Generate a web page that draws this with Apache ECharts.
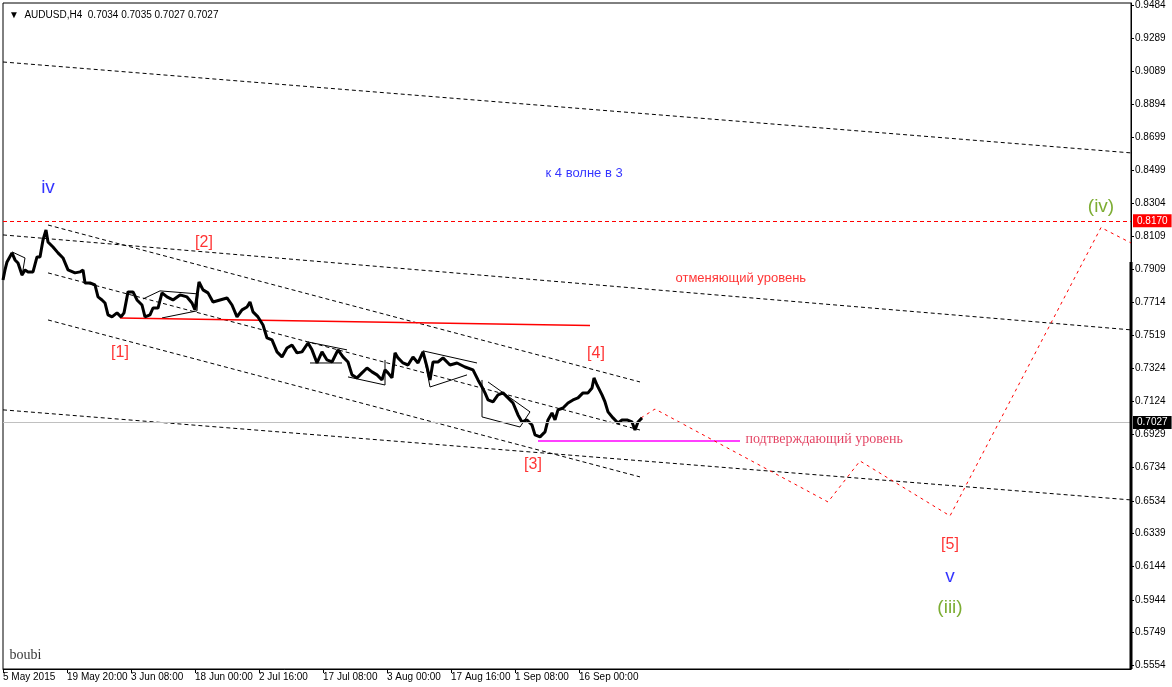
<!DOCTYPE html>
<html><head><meta charset="utf-8">
<script src="https://cdn.jsdelivr.net/npm/echarts@6/dist/echarts.min.js"></script>
<style>html,body{margin:0;padding:0;background:#fff}#c{width:1172px;height:687px}</style>
</head><body><div id="c"></div>
<script>
// ---------- data ----------
const symbolTitle = 'AUDUSD,H4';
const lastOHLC = ['0.7034', '0.7035', '0.7027', '0.7027'];
const xTickBars = [0, 64, 128, 192, 256, 320, 384, 448, 512, 576];
const xTickLabels = ['5 May 2015', '19 May 20:00', '3 Jun 08:00', '18 Jun 00:00', '2 Jul 16:00',
  '17 Jul 08:00', '3 Aug 00:00', '17 Aug 16:00', '1 Sep 08:00', '16 Sep 00:00'];
const yTickValues = [0.9484, 0.9289, 0.9089, 0.8894, 0.8699, 0.8499, 0.8304, 0.8109, 0.7909, 0.7714,
  0.7519, 0.7324, 0.7124, 0.6929, 0.6734, 0.6534, 0.6339, 0.6144, 0.5944, 0.5749, 0.5554];
const barRange = [0, 1128];
const priceRange = [0.5533, 0.9496];

// [bar index, price]
const pricePath = [
[0,0.7848],[2,0.7908],[4,0.7955],[9,0.8009],[12,0.7967],[15,0.7949],[19,0.7878],[22,0.7908],[25,0.7896],[30,0.7896],
[34,0.7985],[37,0.7985],[40,0.8086],[43,0.8146],[45,0.8074],[50,0.8044],[55,0.8009],[60,0.7979],[65,0.7908],[72,0.7890],
[77,0.7896],[80,0.7908],[82,0.7830],[87,0.7830],[92,0.7818],[95,0.7747],[99,0.7729],[102,0.7711],[105,0.7640],[109,0.7628],
[114,0.7652],[118,0.7628],[121,0.7652],[125,0.7777],[130,0.7777],[134,0.7729],[139,0.7699],[142,0.7628],[147,0.7640],[150,0.7681],
[155,0.7681],[159,0.7771],[164,0.7747],[170,0.7729],[177,0.7759],[184,0.7747],[189,0.7711],[192,0.7670],[196,0.7836],[200,0.7789],
[205,0.7771],[210,0.7717],[217,0.7729],[224,0.7741],[229,0.7699],[234,0.7628],[239,0.7670],[244,0.7687],[247,0.7717],[250,0.7658],
[255,0.7628],[260,0.7580],[264,0.7503],[269,0.7491],[274,0.7420],[279,0.7390],[284,0.7443],[289,0.7461],[294,0.7414],[299,0.7420],
[305,0.7473],[309,0.7432],[314,0.7354],[319,0.7420],[324,0.7372],[329,0.7360],[335,0.7432],[340,0.7390],[345,0.7360],[349,0.7283],
[354,0.7265],[359,0.7295],[364,0.7324],[369,0.7301],[374,0.7283],[379,0.7253],[382,0.7313],[385,0.7295],[389,0.7265],[392,0.7414],
[395,0.7384],[400,0.7354],[405,0.7342],[410,0.7390],[415,0.7354],[420,0.7420],[424,0.7330],[427,0.7253],[430,0.7360],[435,0.7360],
[440,0.7384],[447,0.7342],[454,0.7354],[462,0.7330],[470,0.7313],[475,0.7253],[479,0.7211],[482,0.7176],[485,0.7134],[490,0.7122],
[495,0.7164],[500,0.7176],[505,0.7146],[510,0.7116],[515,0.7045],[519,0.7003],[524,0.7015],[529,0.6985],[532,0.6926],[537,0.6914],
[542,0.6944],[545,0.7015],[549,0.7057],[552,0.7015],[555,0.7075],[560,0.7086],[565,0.7116],[570,0.7134],[575,0.7146],[580,0.7176],
[585,0.7176],[589,0.7205],[591,0.7265],[594,0.7223],[599,0.7164],[602,0.7122],[605,0.7063],[610,0.7027],[615,0.6997],[619,0.7015],
[624,0.7015],[629,0.7003],[632,0.6955],[635,0.7003],[639,0.7027]
];

const dashedTrendlines = [
  [[0, 0.9145], [1128, 0.8604]],
  [[0, 0.8116], [1128, 0.7551]],
  [[45, 0.8175], [637, 0.7241]],
  [[45, 0.7890], [637, 0.6955]],
  [[45, 0.7610], [637, 0.6676]],
  [[0, 0.7075], [1128, 0.6539]]
];
const triangleLines = [
  [[9, 0.8015], [22, 0.7979], [19, 0.7872]],
  [[140, 0.7735], [157, 0.7783], [195, 0.7765], [194, 0.7664], [159, 0.7622]],
  [[305, 0.7479], [344, 0.7432]],
  [[307, 0.7354], [339, 0.7354]],
  [[345, 0.7271], [382, 0.7223], [382, 0.7372]],
  [[474, 0.7354], [420, 0.7426], [427, 0.7211], [464, 0.7283]],
  [[485, 0.7241], [527, 0.7063], [517, 0.6973], [479, 0.7033], [479, 0.7253]]
];
const redSupportLine = [[117, 0.7622], [587, 0.7577]];
const confirmLevelLine = [[535, 0.6890], [737, 0.6890]];
const cancelLevel = 0.8170;
const bidPrice = 0.7027;
const projectionPath = [[638, 0.7027], [652, 0.7080], [825, 0.6527], [857, 0.6771], [947, 0.6444], [1098, 0.8160], [1128, 0.8068]];
const axisMarkerSpan = [[1128, 0.7955], [1128, 0.5533]];

const redWaveLabels = [['[1]', 117, 0.7414], ['[2]', 201, 0.8068], ['[3]', 530, 0.6747], ['[4]', 593, 0.7408], ['[5]', 947, 0.6271]];
const blueWaveLabels = [['iv', 45, 0.8395], ['v', 947, 0.6081]];
const greenWaveLabels = [['(iv)', 1098, 0.8282], ['(iii)', 947, 0.5896]];
const noteBlue = [['к 4 волне в 3', 543, 0.8479]];
const noteCancel = [['отменяющий уровень', 673, 0.7854]];
const noteConfirm = [['подтверждающий уровень', 743, 0.6896]];
const signature = [['boubi', 7, 0.5611]];

// ---------- chart ----------
const SANS = 'Liberation Sans, Arial, sans-serif';
const SERIF = 'Liberation Serif, Times New Roman, serif';

function lineSeries(points, style, z) {
  return { type: 'line', data: points, symbol: 'none', lineStyle: style, silent: true,
    z: z || 2, clip: false, animation: false };
}
function textSeries(items, st) {
  return {
    type: 'scatter', symbol: 'circle', symbolSize: 1, silent: true, z: 6, animation: false,
    itemStyle: { color: 'rgba(0,0,0,0)' },
    data: items.map(it => ({ value: [it[1], it[2]], name: it[0] })),
    label: { show: true, formatter: p => p.name,
      position: st.align === 'left' ? [0, 0] : 'inside',
      align: st.align || 'center', verticalAlign: 'middle',
      color: st.color, fontSize: st.size, fontFamily: st.font }
  };
}

const series = [];
dashedTrendlines.forEach(l => series.push(lineSeries(l, { color: '#000', width: 1, type: [4, 3] }, 2)));
triangleLines.forEach(l => series.push(lineSeries(l, { color: '#000', width: 1, type: 'solid' }, 3)));
series.push(lineSeries(redSupportLine, { color: '#ff0000', width: 1.5, type: 'solid' }, 3));
series.push(lineSeries(confirmLevelLine, { color: '#ff00ff', width: 1.5, type: 'solid' }, 3));
series.push(lineSeries(projectionPath, { color: '#ff0000', width: 1, type: [3, 4] }, 3));
series.push(lineSeries(axisMarkerSpan, { color: '#000', width: 3, type: 'solid' }, 7));
series.push({
  type: 'line', data: pricePath, symbol: 'none', silent: true, z: 4, animation: false,
  lineStyle: { color: '#000', width: 3 },
  markLine: {
    symbol: ['none', 'none'], silent: true, animation: false,
    data: [
      { yAxis: cancelLevel, lineStyle: { color: '#ff0000', width: 1, type: [4, 3] },
        label: { show: true, position: 'end', distance: 2, formatter: cancelLevel.toFixed(4),
          backgroundColor: '#ff0000', color: '#fff', padding: [2, 4, 1, 4], fontSize: 10, fontFamily: SANS } },
      { yAxis: bidPrice, lineStyle: { color: '#c0c0c0', width: 1, type: 'solid' },
        label: { show: true, position: 'end', distance: 2, formatter: bidPrice.toFixed(4),
          backgroundColor: '#000', color: '#fff', padding: [2, 4, 1, 4], fontSize: 10, fontFamily: SANS } }
    ]
  }
});
series.push(textSeries(redWaveLabels, { color: '#ff0000', size: 16, font: SANS }));
series.push(textSeries(blueWaveLabels, { color: '#0000ff', size: 19, font: SANS }));
series.push(textSeries(greenWaveLabels, { color: '#5c9900', size: 19, font: SANS }));
series.push(textSeries(noteBlue, { color: '#0000ff', size: 13, font: SANS, align: 'left' }));
series.push(textSeries(noteCancel, { color: '#ff0000', size: 13, font: SANS, align: 'left' }));
series.push(textSeries(noteConfirm, { color: '#dc143c', size: 14, font: SERIF, align: 'left' }));
series.push(textSeries(signature, { color: '#000', size: 14, font: SERIF, align: 'left' }));

const option = {
  animation: false,
  backgroundColor: '#fff',
  title: { text: '▼  ' + symbolTitle + '  ' + lastOHLC.join(' '), left: 4, top: 5,
    textStyle: { fontSize: 10, fontWeight: 'normal', color: '#000', fontFamily: SANS } },
  grid: { left: 3, right: 41, top: 3, bottom: 18, show: true, borderColor: '#000', borderWidth: 1 },
  xAxis: {
    type: 'value', min: barRange[0], max: barRange[1],
    axisLine: { show: true, onZero: false, lineStyle: { color: '#000' } },
    axisTick: { show: true, inside: false, customValues: xTickBars, length: 4, lineStyle: { color: '#000' } },
    axisLabel: { customValues: xTickBars, formatter: v => xTickLabels[xTickBars.indexOf(v)] || '',
      align: 'left', margin: 3, fontSize: 10, color: '#000', fontFamily: SANS },
    splitLine: { show: false }
  },
  yAxis: {
    type: 'value', position: 'right', min: priceRange[0], max: priceRange[1],
    axisLine: { show: true, onZero: false, lineStyle: { color: '#000' } },
    axisTick: { show: true, inside: false, customValues: yTickValues, length: 3, lineStyle: { color: '#000' } },
    axisLabel: { customValues: yTickValues, formatter: v => v.toFixed(4), margin: 4,
      fontSize: 10, color: '#000', fontFamily: SANS },
    splitLine: { show: false }
  },
  series: series
};
echarts.init(document.getElementById('c')).setOption(option);
</script>
</body></html>
